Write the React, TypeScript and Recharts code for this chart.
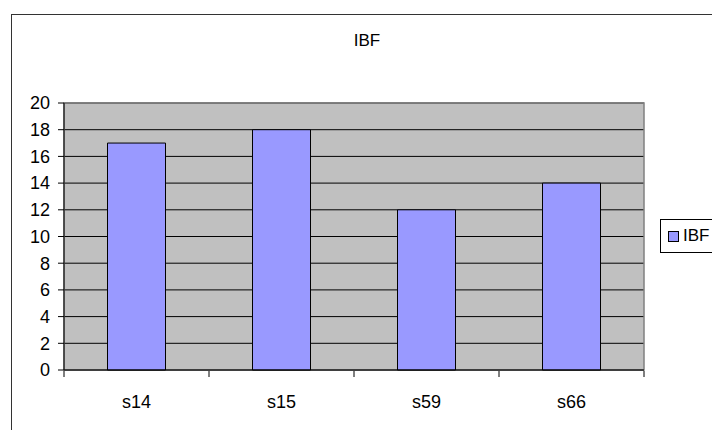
import React from 'react';
import { BarChart, Bar, XAxis, YAxis, CartesianGrid, Legend, ReferenceArea } from 'recharts';

const categories = ['s14', 's15', 's59', 's66'];
const ibfValues = [17, 18, 12, 14];
const yTicks = [0, 2, 4, 6, 8, 10, 12, 14, 16, 18, 20];
const boundaryTicks = [0, 1, 2, 3, 4];

const data = categories.map((name, i) => ({ name, IBF: ibfValues[i], pos: i + 0.5 }));

const FONT = '"Liberation Sans", Arial, sans-serif';

const LegendBox = () => (
  <div
    style={{
      border: '1px solid #000',
      width: 70,
      height: 34,
      display: 'flex',
      alignItems: 'center',
      paddingLeft: 7,
      boxSizing: 'border-box',
      fontFamily: FONT,
      fontSize: 17,
      background: '#fff',
    }}
  >
    <span
      style={{
        width: 9,
        height: 9,
        background: '#9999ff',
        border: '1px solid #000',
        display: 'inline-block',
        marginRight: 4,
      }}
    />
    <span>IBF</span>
  </div>
);

const App: React.FC = () => {
  return (
    <div style={{ position: 'fixed', left: 0, top: 0, width: 712, height: 430, overflow: 'hidden', background: '#fff' }}>
      {/* outer chart frame */}
      <div
        style={{
          position: 'absolute',
          left: 11,
          top: 14,
          width: 760,
          height: 460,
          border: '1px solid #333',
        }}
      />
      <div
        style={{
          position: 'absolute',
          left: 0,
          width: 734,
          top: 31,
          textAlign: 'center',
          fontFamily: FONT,
          fontSize: 17,
        }}
      >
        IBF
      </div>
      <div style={{ position: 'absolute', left: 0, top: 0 }}>
        <BarChart
          width={712}
          height={430}
          data={data}
          margin={{ top: 103, right: -2, left: 4, bottom: 30 }}
          barCategoryGap="30%"
        >
          <CartesianGrid vertical={false} stroke="#000" fill="#c0c0c0" fillOpacity={1} />
          <ReferenceArea y1={0} y2={20} fill="none" stroke="#808080" strokeWidth={1.5} ifOverflow="extendDomain" />
          {/* category labels, sits right on the plot edge */}
          <XAxis
            dataKey="name"
            tickLine={false}
            axisLine={{ stroke: '#000' }}
            height={1}
            tickMargin={19}
            tick={{ fill: '#000', fontSize: 18, fontFamily: FONT }}
          />
          {/* tick marks between categories */}
          <XAxis
            xAxisId="edges"
            dataKey="pos"
            type="number"
            domain={[0, 4]}
            ticks={boundaryTicks}
            interval={0}
            allowDataOverflow
            height={29}
            tickSize={6}
            axisLine={false}
            tickLine={{ stroke: '#000' }}
            tickFormatter={() => ''}
          />
          <YAxis
            width={60}
            domain={[0, 20]}
            ticks={yTicks}
            interval={0}
            tickSize={6}
            tickMargin={8}
            axisLine={{ stroke: '#000' }}
            tickLine={{ stroke: '#000' }}
            tick={{ fill: '#000', fontSize: 18, fontFamily: FONT }}
          />
          <Legend
            layout="vertical"
            align="right"
            verticalAlign="middle"
            content={() => <LegendBox />}
            wrapperStyle={{ left: 660, top: 219, width: 70, right: 'auto' }}
          />
          <Bar dataKey="IBF" fill="#9999ff" stroke="#000" strokeWidth={1} isAnimationActive={false} />
        </BarChart>
      </div>
    </div>
  );
};

export default App;
